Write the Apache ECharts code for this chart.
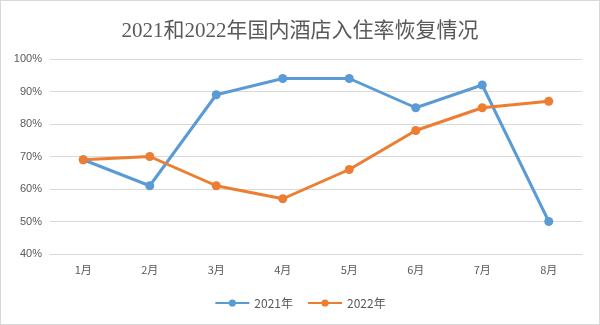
<!DOCTYPE html>
<html><head><meta charset="utf-8">
<script src="https://cdn.jsdelivr.net/npm/echarts@6/dist/echarts.min.js"></script>
<style>html,body{margin:0;padding:0;background:#fff}#c{width:600px;height:325px;box-sizing:border-box;border:1px solid #d9d9d9}</style>
</head><body><div id="c"></div>
<script>
const categories = ['1月','2月','3月','4月','5月','6月','7月','8月'];
const series2021 = [69, 61, 89, 94, 94, 85, 92, 50];
const series2022 = [69, 70, 61, 57, 66, 78, 85, 87];
const seriesNames = ['2021年','2022年'];
const chart = echarts.init(document.getElementById('c'), null, {renderer:'canvas'});
const txt = '#595959';
chart.setOption({
  animation:false,
  title:{text:'2021和2022年国内酒店入住率恢复情况',left:'center',top:15,
    textStyle:{fontFamily:'Liberation Serif, Noto Sans CJK SC',fontSize:21,fontWeight:'normal',color:txt}},
  legend:{bottom:10,left:'center',itemWidth:34,itemHeight:9,itemGap:14,
    textStyle:{color:txt,fontSize:12,fontFamily:'Noto Sans CJK SC'},data:seriesNames},
  grid:{left:49,right:17,top:58,bottom:70,containLabel:false},
  xAxis:{type:'category',data:categories,boundaryGap:true,
    axisLine:{lineStyle:{color:'#d9d9d9'}},axisTick:{show:false},
    axisLabel:{color:txt,fontSize:11,margin:10,fontFamily:'Noto Sans CJK SC'}},
  yAxis:{type:'value',min:40,max:100,interval:10,
    axisLabel:{formatter:'{value}%',color:txt,fontSize:11,margin:8},
    axisLine:{show:false},axisTick:{show:false},
    splitLine:{lineStyle:{color:'#d9d9d9'}}},
  series:[
    {name:seriesNames[0],type:'line',data:series2021,symbol:'circle',symbolSize:9,
      lineStyle:{width:3,color:'#5B9BD5'},itemStyle:{color:'#5B9BD5'}},
    {name:seriesNames[1],type:'line',data:series2022,symbol:'circle',symbolSize:9,
      lineStyle:{width:3,color:'#ED7D31'},itemStyle:{color:'#ED7D31'}}
  ]
});
</script></body></html>
